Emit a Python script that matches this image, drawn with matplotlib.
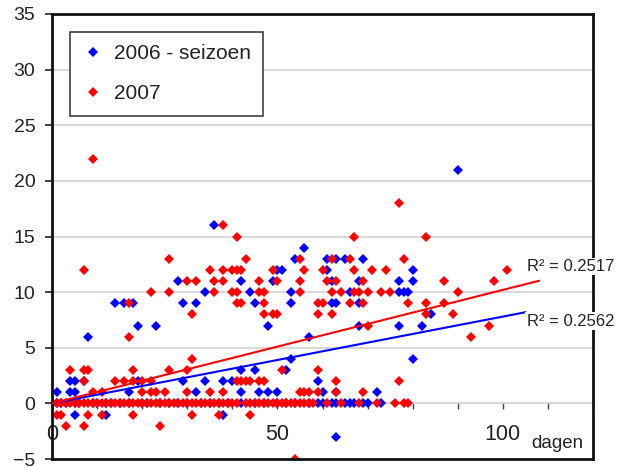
import matplotlib
matplotlib.use('Agg')
import matplotlib.pyplot as plt
from matplotlib.ticker import MultipleLocator, FuncFormatter
import numpy as np

plt.rcParams['font.family'] = ['Liberation Sans', 'DejaVu Sans']

# 2006 - seizoen (blauw)
blue_x = [90, 36, 56,
          54, 61, 63, 65, 69,
          50, 51, 61, 80,
          28, 42, 49, 62, 68, 77, 80,
          34, 44, 53, 66, 77, 78, 79,
          14, 16, 18, 29, 32, 45, 53, 62, 63, 68,
          84,
          19, 23, 48, 68, 77, 82,
          8, 57,
          53, 80,
          42, 45, 52,
          4, 5, 7, 19, 29, 34, 38, 40, 59,
          1, 4, 5, 17, 32, 42, 46, 48, 50, 60, 63, 72,
          0, 1, 2, 3, 5, 6, 9, 10, 12, 13, 15, 17, 20, 21, 24, 26, 28, 30, 33, 35,
          37, 39, 42, 45, 47, 50, 52, 54, 57, 59, 60, 62, 63, 65, 66, 67, 69, 70, 73,
          5, 12, 38,
          63]
blue_y = [21, 16, 14,
          13, 13, 13, 13, 13,
          12, 12, 12, 12,
          11, 11, 11, 11, 11, 11, 11,
          10, 10, 10, 10, 10, 10, 10,
          9, 9, 9, 9, 9, 9, 9, 9, 9, 9,
          8,
          7, 7, 7, 7, 7, 7,
          6, 6,
          4, 4,
          3, 3, 3,
          2, 2, 2, 2, 2, 2, 2, 2, 2,
          1, 1, 1, 1, 1, 1, 1, 1, 1, 1, 1, 1,
          0, 0, 0, 0, 0, 0, 0, 0, 0, 0, 0, 0, 0, 0, 0, 0, 0, 0, 0, 0,
          0, 0, 0, 0, 0, 0, 0, 0, 0, 0, 0, 0, 0, 0, 0, 0, 0, 0, 0,
          -1, -1, -1,
          -3]

# 2007 (rood)
red_x = [9, 77, 38,
         41, 67, 83,
         26, 43, 55, 62, 66, 78,
         7, 35, 38, 40, 41, 42, 49, 56, 60, 67, 71, 74, 101,
         30, 32, 36, 38, 46, 50, 55, 61, 63, 69, 87, 98,
         22, 26, 36, 40, 41, 46, 47, 55, 62, 64, 67, 68, 70, 73, 75, 90,
         17, 41, 42, 47, 59, 60, 66, 69, 79, 83, 87,
         31, 47, 49, 50, 59, 62, 83, 89,
         70, 97,
         17, 93,
         31,
         4, 7, 8, 18, 26, 30, 51, 59,
         7, 14, 16, 18, 20, 22, 41, 42, 43, 44, 46, 47, 63, 77,
         9, 11, 20, 22, 23, 25, 30, 35, 38, 55, 56, 57, 59, 63, 69,
         0, 1, 2, 3, 4, 5, 6, 7, 8, 9, 10, 11, 12, 13, 14, 15, 16, 17, 18, 19, 20,
         21, 22, 23, 24, 25, 26, 27, 28, 29, 30, 31, 32, 33, 34, 35, 36, 37, 38, 39,
         40, 41, 43, 44, 45, 46, 47, 48, 49, 50, 51, 52, 53, 54, 55, 56, 57, 58,
         61, 64, 68, 72, 76, 78, 79,
         1, 2, 8, 11, 18, 31, 37, 44,
         3, 7, 24,
         54]
red_y = [22, 18, 16,
         15, 15, 15,
         13, 13, 13, 13, 13, 13,
         12, 12, 12, 12, 12, 12, 12, 12, 12, 12, 12, 12, 12,
         11, 11, 11, 11, 11, 11, 11, 11, 11, 11, 11, 11,
         10, 10, 10, 10, 10, 10, 10, 10, 10, 10, 10, 10, 10, 10, 10, 10,
         9, 9, 9, 9, 9, 9, 9, 9, 9, 9, 9,
         8, 8, 8, 8, 8, 8, 8, 8,
         7, 7,
         6, 6,
         4,
         3, 3, 3, 3, 3, 3, 3, 3,
         2, 2, 2, 2, 2, 2, 2, 2, 2, 2, 2, 2, 2, 2,
         1, 1, 1, 1, 1, 1, 1, 1, 1, 1, 1, 1, 1, 1, 1,
         0, 0, 0, 0, 0, 0, 0, 0, 0, 0, 0, 0, 0, 0, 0, 0, 0, 0, 0, 0, 0,
         0, 0, 0, 0, 0, 0, 0, 0, 0, 0, 0, 0, 0, 0, 0, 0, 0, 0, 0,
         0, 0, 0, 0, 0, 0, 0, 0, 0, 0, 0, 0, 0, 0, 0, 0, 0, 0,
         0, 0, 0, 0, 0, 0, 0,
         -1, -1, -1, -1, -1, -1, -1, -1,
         -2, -2, -2,
         -5]

# trendlijnen (lineair) en R2
blue_trend = (0.078, 0.0)    # helling, snijpunt
red_trend = (0.102, 0.0)
blue_trend_end = 105
red_trend_end = 108
blue_r2 = 'R² = 0.2562'
red_r2 = 'R² = 0.2517'

fig = plt.figure(figsize=(6.22, 4.68), dpi=100)
ax = fig.add_axes([52/622, 9/468, 541/622, 445/468])

ax.plot(blue_x, blue_y, linestyle='none', marker='D', markersize=4.9,
        markeredgewidth=0, color='#0000ff', label='2006 - seizoen', zorder=2)
ax.plot(red_x, red_y, linestyle='none', marker='D', markersize=4.9,
        markeredgewidth=0, color='#ff0000', label='2007', zorder=2.1)

xb = np.array([0, blue_trend_end])
xr = np.array([0, red_trend_end])
ax.plot(xb, blue_trend[0]*xb + blue_trend[1], color='#0000ff', lw=1.5, zorder=3)
ax.plot(xr, red_trend[0]*xr + red_trend[1], color='#ff0000', lw=1.5, zorder=3)

ax.set_xlim(0, 120)
ax.set_ylim(-5, 35)

# y-as
ax.yaxis.set_major_locator(MultipleLocator(5))
ax.tick_params(axis='y', direction='out', length=5, width=1.2, color='#222222',
               labelsize=14, labelcolor='#222222', pad=7)
ax.yaxis.grid(True, color='#d9d9d9', lw=1.5)
ax.set_axisbelow(True)

# x-as op y = 0
ax.spines['bottom'].set_position(('data', 0))
ax.spines['bottom'].set_color('#d9d9d9')
ax.spines['bottom'].set_linewidth(1.5)
ax.spines['bottom'].set_zorder(0.6)
ax.xaxis.set_major_locator(MultipleLocator(10))
ax.xaxis.set_major_formatter(FuncFormatter(lambda v, p: '%d' % v if v % 50 == 0 and v <= 100 else ''))
ax.tick_params(axis='x', direction='out', length=4, width=1, color='#404040',
               labelsize=15.5, labelcolor='#222222', pad=11)
for s in ['top', 'left', 'right']:
    ax.spines[s].set_linewidth(2)
    ax.spines[s].set_color('#111111')
ax.axhline(-5, color='#111111', lw=2, clip_on=False, zorder=4)

ax.text(106.4, -4.05, 'dagen', fontsize=13.5, color='#222222', ha='left', va='baseline')

ax.text(105.3, 12.3, red_r2, fontsize=12, color='#222222', ha='left', va='center',
        clip_on=False, zorder=6,
        bbox=dict(facecolor='white', edgecolor='none', pad=1))
ax.text(105.3, 7.4, blue_r2, fontsize=12, color='#222222', ha='left', va='center',
        clip_on=False, zorder=6,
        bbox=dict(facecolor='white', edgecolor='none', pad=1))

leg = ax.legend(loc='upper left', bbox_to_anchor=(0.033, 0.96), fontsize=15,
                frameon=True, fancybox=False, edgecolor='#404040', framealpha=1,
                handlelength=1.0, handletextpad=0.5, labelspacing=1.0,
                borderpad=0.6, borderaxespad=0, markerscale=1.0)
leg.get_frame().set_linewidth(1.2)
for t in leg.get_texts():
    t.set_color('#222222')

fig.savefig('out.png', dpi=100)
